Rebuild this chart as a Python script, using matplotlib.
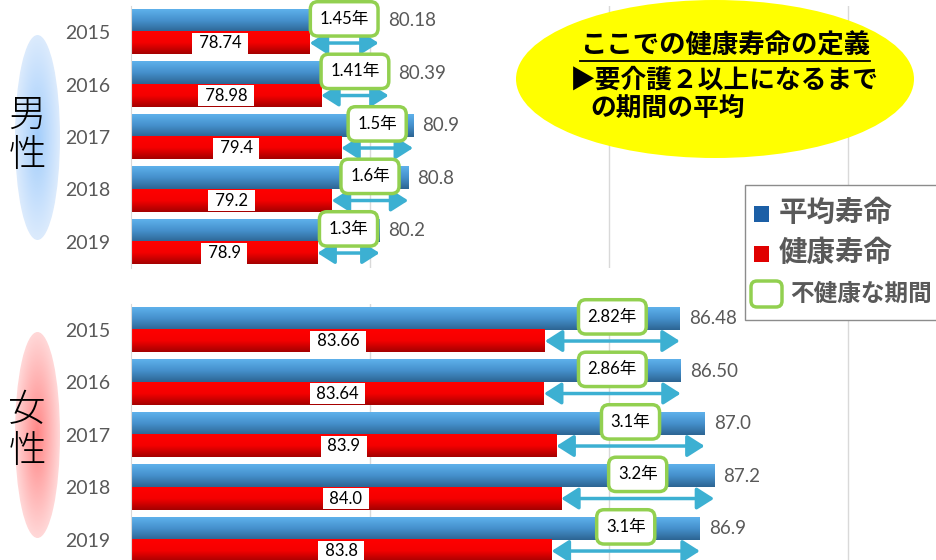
import numpy as np
import matplotlib
matplotlib.use('Agg')
import matplotlib.pyplot as plt
from matplotlib.colors import LinearSegmentedColormap
from matplotlib.patches import Ellipse, Rectangle, FancyBboxPatch

plt.rcParams['font.family'] = ['Lato', 'Noto Sans CJK JP', 'DejaVu Sans']
CJK = ['Noto Sans CJK JP', 'DejaVu Sans']

# data (kept as strings so the labels keep their own formatting)
years = ['2015', '2016', '2017', '2018', '2019']
male_avg = ['80.18', '80.39', '80.9', '80.8', '80.2']
male_healthy = ['78.74', '78.98', '79.4', '79.2', '78.9']
male_gap = ['1.45', '1.41', '1.5', '1.6', '1.3']
female_avg = ['86.48', '86.50', '87.0', '87.2', '86.9']
female_healthy = ['83.66', '83.64', '83.9', '84.0', '83.8']
female_gap = ['2.82', '2.86', '3.1', '3.2', '3.1']

W, H = 937, 560
X0, X1 = 75, 95
PX_PER_YEAR = 47.8
PANEL_H = 262.5

blue_cmap = LinearSegmentedColormap.from_list('blue', ['#5EB1EB', '#4590CC', '#2D6593'])
red_cmap = LinearSegmentedColormap.from_list('red', ['#FF0000', '#F50000', '#A40000'])
grad = np.linspace(0, 1, 64).reshape(-1, 1)

fig = plt.figure(figsize=(W / 100, H / 100), dpi=100)


def panel(top_px, avg, healthy, gap):
    ax = fig.add_axes([131 / W, 1 - (top_px + PANEL_H) / H,
                       (X1 - X0) * PX_PER_YEAR / W, PANEL_H / H])
    bh = 0.42
    for i in range(len(years)):
        a = float(avg[i])
        h = float(healthy[i])
        # gradient bars
        ax.imshow(grad, cmap=blue_cmap, extent=(X0, a, i, i - bh),
                  aspect='auto', zorder=2, interpolation='bilinear')
        ax.imshow(grad, cmap=red_cmap, extent=(X0, h, i + bh, i),
                  aspect='auto', zorder=2, interpolation='bilinear')
        # average value label
        ax.annotate(avg[i], (a, i - bh / 2), xytext=(6.5, 0), textcoords='offset points',
                    va='center', ha='left', color='#595959', fontsize=13.5)
        # healthy value label in white box
        ax.text((X0 + h) / 2, i + bh / 2, ' ' + healthy[i] + ' ', ha='center', va='center',
                fontsize=12, color='black', zorder=4,
                bbox=dict(boxstyle='square,pad=0.15', fc='white', ec='none'))
        # double arrow for the unhealthy period
        ax.annotate('', xy=(a, i + bh / 2), xytext=(h, i + bh / 2), zorder=3,
                    arrowprops=dict(arrowstyle='<|-|>,head_length=0.55,head_width=0.35',
                                    color='#3CB0D2', lw=2.5, shrinkA=0, shrinkB=0,
                                    mutation_scale=19))
        # gap box
        ax.text((a + h) / 2, i - bh / 2 - 0.04, gap[i] + '年', ha='center', va='center',
                fontsize=12, color='black', zorder=5,
                bbox=dict(boxstyle='round,pad=0.55,rounding_size=0.45',
                          fc='white', ec='#92D050', lw=2.5))

    ax.set_xlim(X0, X1)
    ax.set_ylim(len(years) - 0.5, -0.5)
    ax.set_xticks([80, 85, 90, 95])
    ax.set_xticklabels([])
    ax.tick_params(axis='x', length=0)
    ax.set_yticks(range(len(years)))
    ax.set_yticklabels(years, color='#595959', fontsize=14)
    ax.tick_params(axis='y', length=0, pad=15)
    ax.grid(axis='x', color='#D9D9D9', lw=1)
    ax.set_axisbelow(True)
    for s in ['top', 'right', 'bottom']:
        ax.spines[s].set_visible(False)
    ax.spines['left'].set_color('#D9D9D9')
    ax.patch.set_alpha(0)
    return ax


ax_m = panel(5.75, male_avg, male_healthy, male_gap)
ax_f = panel(303.75, female_avg, female_healthy, female_gap)

# overlay in pixel coordinates for the decorations
ov = fig.add_axes([0, 0, 1, 1], zorder=10)
ov.patch.set_alpha(0)


def badge(cx, cy, w, h, c_in, c_out, chars, char_ys):
    e = Ellipse((cx, cy), w, h, fc='none', ec='none')
    ov.add_patch(e)
    yy, xx = np.mgrid[-1:1:200j, -1:1:100j]
    r = np.sqrt(xx ** 2 + yy ** 2)
    cmap = LinearSegmentedColormap.from_list('g', [c_in, c_out])
    im = ov.imshow(r, cmap=cmap, vmin=0, vmax=1, aspect='auto',
                   extent=(cx - w / 2, cx + w / 2, cy + h / 2, cy - h / 2))
    im.set_clip_path(e)
    for ch, y in zip(chars, char_ys):
        ov.text(27, y, ch, ha='center', va='center', fontsize=27, color='black',
                family=CJK, weight='light')


badge(37.5, 137.5, 45, 205, '#A2CDFB', '#DCEBFD', '男性', [115, 155])
badge(37.5, 435, 45, 206, '#FF8585', '#FFD8D8', '女性', [410, 451])

# definition bubble
ov.add_patch(Ellipse((715, 79), 398, 158, fc='#FFFF00', ec='none'))
t1 = ov.text(725, 46, 'ここでの健康寿命の定義', ha='center', va='center',
             fontsize=19, weight='bold', family=CJK)
ov.text(570, 80, '▶要介護２以上になるまで', ha='left', va='center',
        fontsize=18.5, weight='bold', family=CJK)
ov.text(590, 108, 'の期間の平均', ha='left', va='center',
        fontsize=18.5, weight='bold', family=CJK)

# legend box
ov.add_patch(Rectangle((745, 185), 200, 135, fc='white', ec='#8C8C8C', lw=1))
ov.add_patch(Rectangle((754, 206), 15, 16, fc='#1C5FA6', ec='none'))
ov.text(779, 213, '平均寿命', va='center', fontsize=20.5, weight='bold',
        color='#595959', family=CJK)
ov.add_patch(Rectangle((754, 246), 15, 16, fc='#E00000', ec='none'))
ov.text(779, 253, '健康寿命', va='center', fontsize=20.5, weight='bold',
        color='#595959', family=CJK)
ov.add_patch(FancyBboxPatch((751, 281), 31, 26, boxstyle='round,pad=0,rounding_size=6',
                            fc='white', ec='#92D050', lw=2.5))
ov.text(790, 294, '不健康な期間', va='center', fontsize=17, weight='bold',
        color='#595959', family=CJK)

ov.set_xlim(0, W)
ov.set_ylim(H, 0)
ov.axis('off')

# underline the bubble title
fig.canvas.draw()
bb = t1.get_window_extent()
inv = ov.transData.inverted()
(ux0, uy0), (ux1, _) = inv.transform([(bb.x0, bb.y0), (bb.x1, bb.y0)])
ov.plot([ux0, ux1], [uy0 + 1, uy0 + 1], color='black', lw=1.3)
ov.set_xlim(0, W)
ov.set_ylim(H, 0)

fig.savefig('out.png', dpi=100)
